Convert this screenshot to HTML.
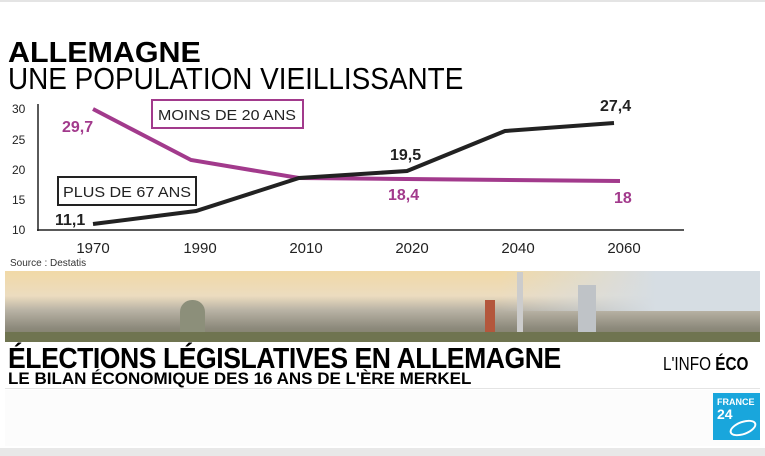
<!DOCTYPE html><html><head><style>
body{margin:0;width:765px;height:456px;background:#fff;overflow:hidden;position:relative;font-family:"Liberation Sans",sans-serif}
.t{position:absolute;white-space:nowrap;transform-origin:0 0}
</style></head><body>
<div style="position:absolute;left:0;top:0;width:765px;height:2px;background:#e4e4e4"></div>
<div class="t" style="left:8px;top:37px;font-size:29px;font-weight:bold;transform:scaleX(1.05)">ALLEMAGNE</div>
<div class="t" style="left:8px;top:61px;font-size:31px;transform:scaleX(0.9)">UNE POPULATION VIEILLISSANTE</div>
<svg style="position:absolute;left:0;top:0" width="765" height="270">
<g font-family="Liberation Sans" font-size="12" fill="#222">
<text x="12" y="113">30</text><text x="12" y="144">25</text><text x="12" y="174">20</text><text x="12" y="204">15</text><text x="12" y="234">10</text>
</g>
<line x1="38" y1="104" x2="38" y2="231" stroke="#222" stroke-width="1.5"/>
<line x1="37" y1="230" x2="684" y2="230" stroke="#222" stroke-width="1.5"/>
<g font-family="Liberation Sans" font-size="15" fill="#222" text-anchor="middle">
<text x="93" y="253">1970</text><text x="200" y="253">1990</text><text x="306" y="253">2010</text><text x="412" y="253">2020</text><text x="518" y="253">2040</text><text x="624" y="253">2060</text>
</g>
<polyline points="93,109 191,160 299,178 620,181" fill="none" stroke="#a23a8c" stroke-width="4"/>
<polyline points="93,224 196,211 299,178 407,171 505,131 614,123" fill="none" stroke="#222" stroke-width="4"/>
<rect x="152" y="100" width="151" height="28" fill="#fff" stroke="#a23a8c" stroke-width="2"/>
<text x="158" y="120" font-size="15" fill="#222" textLength="138" lengthAdjust="spacingAndGlyphs">MOINS DE 20 ANS</text>
<rect x="58" y="177" width="138" height="28" fill="#fff" stroke="#222" stroke-width="2"/>
<text x="63" y="197" font-size="15" fill="#222" textLength="128" lengthAdjust="spacingAndGlyphs">PLUS DE 67 ANS</text>
<g font-family="Liberation Sans" font-size="16" font-weight="bold">
<text x="62" y="132" fill="#a23a8c">29,7</text>
<text x="55" y="225" fill="#222">11,1</text>
<text x="390" y="160" fill="#222">19,5</text>
<text x="388" y="200" fill="#a23a8c">18,4</text>
<text x="600" y="111" fill="#222">27,4</text>
<text x="614" y="203" fill="#a23a8c">18</text>
</g>
<text x="10" y="266" font-size="10" fill="#333">Source : Destatis</text>
</svg>
<div style="position:absolute;left:5px;top:271px;width:755px;height:71px;background:linear-gradient(180deg,#f1d9a6 0%,#ecdcbf 35%,#b9b3a5 55%,#8d8a7c 80%,#7c7b62 100%)"></div>
<div style="position:absolute;left:500px;top:271px;width:260px;height:40px;background:linear-gradient(90deg,rgba(220,225,230,0) 0%,#d6dde3 60%)"></div>
<div style="position:absolute;left:485px;top:300px;width:10px;height:36px;background:#b4573c"></div>
<div style="position:absolute;left:517px;top:272px;width:6px;height:64px;background:#ccc"></div>
<div style="position:absolute;left:578px;top:285px;width:18px;height:51px;background:#bfc3c7"></div>
<div style="position:absolute;left:180px;top:300px;width:25px;height:36px;background:#8c8f7a;border-radius:12px 12px 0 0"></div>
<div style="position:absolute;left:5px;top:332px;width:755px;height:10px;background:#6f7450"></div>
<div class="t" style="left:8px;top:343px;font-size:29px;font-weight:bold;transform:scaleX(0.917);letter-spacing:-0.5px">ÉLECTIONS LÉGISLATIVES EN ALLEMAGNE</div>
<div class="t" style="left:8px;top:369px;font-size:17px;font-weight:bold;transform:scaleX(1.0)">LE BILAN ÉCONOMIQUE DES 16 ANS DE L'ÈRE MERKEL</div>
<div class="t" style="left:663px;top:354px;font-size:18px;transform:scaleX(0.85)">L'INFO <b>ÉCO</b></div>
<div style="position:absolute;left:5px;top:388px;width:755px;height:1px;background:#e4e4e4"></div>
<div style="position:absolute;left:5px;top:390px;width:755px;height:56px;background:#fcfcfc"></div>
<div style="position:absolute;left:713px;top:393px;width:47px;height:47px;background:#19a6dc;color:#fff;font-weight:bold">
<div class="t" style="left:4px;top:4px;font-size:9px">FRANCE</div>
<div class="t" style="left:4px;top:13px;font-size:14px">24</div>
<div style="position:absolute;left:16px;top:28px;width:24px;height:10px;border:2px solid #fff;border-radius:50%;transform:rotate(-20deg)"></div>
</div>
<div style="position:absolute;left:0;top:448px;width:765px;height:8px;background:#e8e8e8"></div>
</body></html>
